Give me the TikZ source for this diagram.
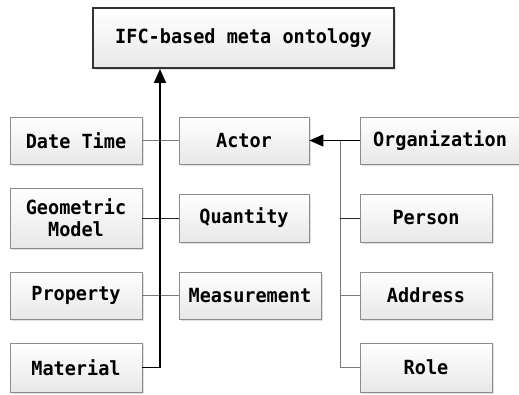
\documentclass[tikz,border=0pt]{standalone}
\usepackage{fontspec}
\setmonofont[FakeStretch=0.95]{DejaVu Sans Mono}
\usetikzlibrary{arrows.meta,shadows}
\definecolor{boxline}{HTML}{8C8C8C}
\definecolor{boxbot}{HTML}{E8E8E8}
\definecolor{conn}{HTML}{7A7A7A}
\tikzset{
  box/.style={draw=boxline, line width=0.8pt, top color=white, bottom color=boxbot,
    inner sep=0pt, align=center, font=\ttfamily\bfseries\fontsize{19.5}{22}\selectfont,
    drop shadow={shadow xshift=1.5pt, shadow yshift=-1.5pt, fill=black, opacity=0.12}},
  topbox/.style={box, draw=black!80, line width=1.8pt},
  conn/.style={draw=conn, line width=0.8pt},
  trunk/.style={draw=black, line width=1.4pt},
  tip/.style={-{Triangle[length=14pt,width=12pt]}}
}
\begin{document}
\begin{tikzpicture}[x=1pt,y=-1pt]
\useasboundingbox (0,0) rectangle (519,394);
\node[topbox, minimum width=301pt, minimum height=60pt] (top) at (243.5,38) {IFC-based meta ontology};
\node[box, minimum width=132pt, minimum height=47pt] (datetime) at (76,140.5) {Date Time};
\node[box, minimum width=130pt, minimum height=47pt] (actor) at (244,140.5) {Actor};
\node[box, minimum width=160pt, minimum height=47pt] (org) at (440,140.5) {Organization};
\node[box, minimum width=132pt, minimum height=60pt] (geom) at (76,218) {Geometric\\Model};
\node[box, minimum width=130pt, minimum height=48pt] (quantity) at (244,218) {Quantity};
\node[box, minimum width=132pt, minimum height=48pt] (person) at (426,218) {Person};
\node[box, minimum width=132pt, minimum height=47pt] (property) at (76,295.5) {Property};
\node[box, minimum width=142pt, minimum height=47pt] (measurement) at (250,295.5) {Measurement};
\node[box, minimum width=132pt, minimum height=47pt] (address) at (426,295.5) {Address};
\node[box, minimum width=132pt, minimum height=49pt] (material) at (76,367.5) {Material};
\node[box, minimum width=132pt, minimum height=49pt] (role) at (426,367.5) {Role};
\coordinate (trunkbot) at (160,367.5);
\coordinate (bustop) at (340,140.5);
% left side links
\draw[conn] (datetime.east) -- (actor.west);
\draw[conn, draw=black!85] (geom.east) -- (quantity.west);
\draw[conn] (property.east) -- (measurement.west);
% main trunk
\draw[trunk, tip] (material.east) -- (trunkbot) -- (top.south -| trunkbot);
% right side bus
\draw[conn] (bustop) |- (role.west);
\draw[conn, draw=black!85] (person.west -| bustop) -- (person.west);
\draw[conn] (address.west -| bustop) -- (address.west);
\draw[trunk, line width=1.2pt, tip] (org.west) -- (actor.east);
\end{tikzpicture}
\end{document}
